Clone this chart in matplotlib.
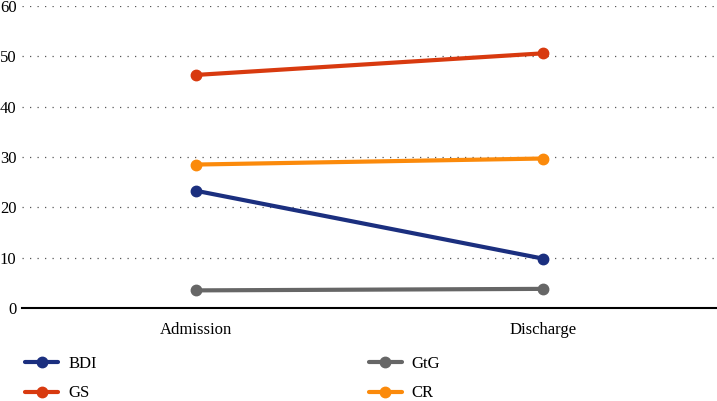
import matplotlib.pyplot as plt

plt.rcParams['font.family'] = ['Liberation Serif', 'DejaVu Serif']

stages = ["Admission", "Discharge"]
bdi = [23.3, 9.8]
gs = [46.3, 50.6]
gtg = [3.5, 3.8]
cr = [28.5, 29.7]

series = [("BDI", bdi, "#1b2f7f"), ("GS", gs, "#d83a0f"),
          ("GtG", gtg, "#666666"), ("CR", cr, "#fb8a0b")]

fig = plt.figure(figsize=(7.17, 4.01), dpi=100)
ax = fig.add_axes([22 / 717, 1 - 308 / 401, 1 - 22 / 717, 302 / 401])

x = list(range(len(stages)))
for name, vals, col in series:
    ax.plot(x, vals, color=col, lw=3, marker="o", ms=7.5, label=name,
            solid_capstyle="round")

ax.set_xlim(-0.5, 1.5)
ax.set_ylim(0, 60)
ax.set_yticks(range(0, 61, 10))
ax.set_xticks(x)
ax.set_xticklabels(stages)
ax.tick_params(length=0, labelsize=12)
ax.tick_params(axis="y", pad=4)
ax.tick_params(axis="x", pad=10)
ax.yaxis.grid(True, linestyle=(0, (1, 5)), color="#555555", lw=0.9)
ax.set_axisbelow(True)
for s in ["top", "right", "left"]:
    ax.spines[s].set_visible(False)
ax.spines["bottom"].set_linewidth(1.5)
ax.spines["bottom"].set_zorder(5)

fig.legend(loc="upper left", bbox_to_anchor=(25 / 717, 1 - 356 / 401), ncol=2,
           frameon=False, fontsize=12, handlelength=2.0, handletextpad=0.6,
           labelspacing=0.8, columnspacing=16.3, borderaxespad=0, borderpad=0)

fig.savefig("out.png", dpi=100)
